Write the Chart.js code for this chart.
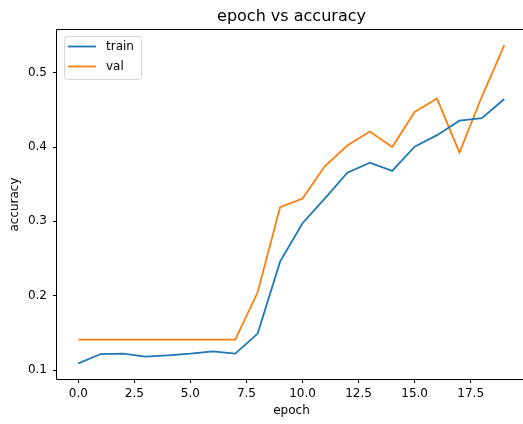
<!DOCTYPE html>
<html>
<head>
<meta charset="utf-8">
<script src="https://cdn.jsdelivr.net/npm/chart.js@4/dist/chart.umd.min.js"></script>
<style>
  html, body { margin: 0; padding: 0; background: #fff; overflow: hidden; }
  canvas { display: block; }
</style>
</head>
<body>
<canvas id="accChart" width="523" height="424"></canvas>
<script>
// epoch vs accuracy values
const epochs = [0, 1, 2, 3, 4, 5, 6, 7, 8, 9, 10, 11, 12, 13, 14, 15, 16, 17, 18, 19];
const trainAcc = [0.109, 0.1215, 0.122, 0.118, 0.1197, 0.122, 0.125, 0.122, 0.149, 0.2458,
                  0.2975, 0.331, 0.3655, 0.379, 0.368, 0.4005, 0.416, 0.4355, 0.439, 0.4647];
const valAcc = [0.1408, 0.1408, 0.1408, 0.1408, 0.1408, 0.1408, 0.1408, 0.1408, 0.2046, 0.319,
                0.3306, 0.3745, 0.402, 0.4208, 0.400, 0.4472, 0.4652, 0.3925, 0.468, 0.537];
const xTicks = [0, 2.5, 5, 7.5, 10, 12.5, 15, 17.5];
const yTicks = [0.1, 0.2, 0.3, 0.4, 0.5];

const FONT = '"DejaVu Sans", sans-serif';
const BLUE = '#1f77b4';
const ORANGE = '#ff7f0e';

const toPoints = (ys) => epochs.map((e, i) => ({ x: e, y: ys[i] }));

// matplotlib-like frame (right side is cut off by the window), title, axis labels, legend
const decorations = {
  id: 'decorations',
  afterDraw(chart) {
    const { ctx, chartArea: a } = chart;
    const l = Math.round(a.left) - 0.5, t = Math.round(a.top) - 0.5, b = Math.round(a.bottom) + 0.5;
    ctx.save();
    ctx.strokeStyle = '#000';
    ctx.lineWidth = 1;
    ctx.beginPath();
    ctx.moveTo(chart.width, t);
    ctx.lineTo(l, t);
    ctx.lineTo(l, b);
    ctx.lineTo(chart.width, b);
    ctx.stroke();

    const cx = 291.5;
    ctx.fillStyle = '#000';
    ctx.textAlign = 'center';
    ctx.textBaseline = 'alphabetic';
    ctx.font = '16px ' + FONT;
    ctx.fillText('epoch vs accuracy', cx, 21);

    ctx.textBaseline = 'middle';
    ctx.font = '12px ' + FONT;
    ctx.fillText('epoch', cx, 411);
    ctx.save();
    ctx.translate(15, (a.top + a.bottom) / 2);
    ctx.rotate(-Math.PI / 2);
    ctx.fillText('accuracy', 0, 0);
    ctx.restore();

    // legend box
    const bx = 64.5, by = 36.5, bw = 77, bh = 43, r = 3;
    ctx.beginPath();
    ctx.moveTo(bx + r, by);
    ctx.arcTo(bx + bw, by, bx + bw, by + bh, r);
    ctx.arcTo(bx + bw, by + bh, bx, by + bh, r);
    ctx.arcTo(bx, by + bh, bx, by, r);
    ctx.arcTo(bx, by, bx + bw, by, r);
    ctx.closePath();
    ctx.fillStyle = 'rgba(255,255,255,0.8)';
    ctx.fill();
    ctx.strokeStyle = '#d6d6d6';
    ctx.stroke();

    const items = [['train', BLUE, 46.5], ['val', ORANGE, 66.5]];
    ctx.textAlign = 'left';
    ctx.lineWidth = 1.8;
    items.forEach(([label, color, y]) => {
      ctx.strokeStyle = color;
      ctx.beginPath();
      ctx.moveTo(68, y);
      ctx.lineTo(96, y);
      ctx.stroke();
      ctx.fillStyle = '#000';
      ctx.fillText(label, 106, y);
    });
    ctx.restore();
  }
};

new Chart(document.getElementById('accChart'), {
  type: 'line',
  data: {
    datasets: [
      { label: 'train', data: toPoints(trainAcc), borderColor: BLUE, borderWidth: 1.8,
        pointRadius: 0, tension: 0, fill: false },
      { label: 'val', data: toPoints(valAcc), borderColor: ORANGE, borderWidth: 1.8,
        pointRadius: 0, tension: 0, fill: false }
    ]
  },
  options: {
    responsive: false,
    animation: false,
    devicePixelRatio: 1,
    layout: { padding: { top: 30, right: 0, left: 0, bottom: 0 } },
    plugins: {
      legend: { display: false },
      title: { display: false },
      tooltip: { enabled: false }
    },
    scales: {
      x: {
        type: 'linear',
        min: -0.95,
        max: 19.834,
        afterBuildTicks: (scale) => { scale.ticks = xTicks.map(v => ({ value: v })); },
        afterFit: (scale) => { scale.height = 45; },
        border: { display: false },
        grid: { display: true, drawOnChartArea: false, drawTicks: true, tickLength: 4,
                color: '#000', lineWidth: 1 },
        ticks: { color: '#000', font: { family: FONT, size: 12 }, padding: 4,
                 maxRotation: 0, autoSkip: false,
                 callback: (v) => Number(v).toFixed(1) }
      },
      y: {
        min: 0.0879,
        max: 0.5575,
        afterBuildTicks: (scale) => { scale.ticks = yTicks.map(v => ({ value: v })); },
        afterFit: (scale) => { scale.width = 57; },
        border: { display: false },
        grid: { display: true, drawOnChartArea: false, drawTicks: true, tickLength: 4,
                color: '#000', lineWidth: 1 },
        ticks: { color: '#000', font: { family: FONT, size: 12 }, padding: 6,
                 autoSkip: false,
                 callback: (v) => Number(v).toFixed(1) }
      }
    }
  },
  plugins: [decorations]
});
</script>
</body>
</html>
